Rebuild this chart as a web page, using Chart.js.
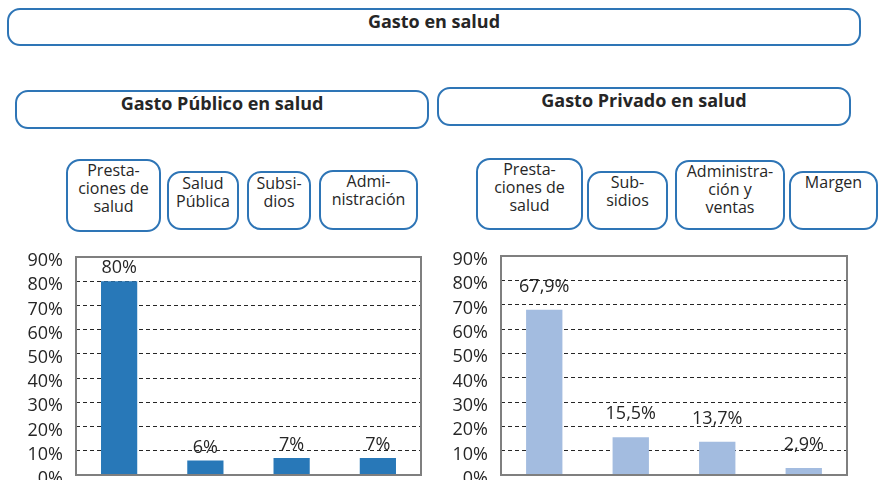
<!DOCTYPE html>
<html>
<head>
<meta charset="utf-8">
<script src="https://cdn.jsdelivr.net/npm/chart.js@4"></script>
<style>
  body { margin: 0; width: 878px; height: 480px; overflow: hidden; background: #fff; position: relative; font-family: "Open Sans", sans-serif; color: #262626; }
  .box { position: absolute; box-sizing: border-box; border: 2.5px solid #2E75B6; border-radius: 13px; text-align: center; background: #fff; }
  .title { font-weight: bold; font-size: 18px; line-height: 22px; }
  .item { font-size: 16px; line-height: 18px; border-radius: 14px; }
  canvas { position: absolute; }
</style>
</head>
<body>

<div class="box title" style="left:7px;top:8px;width:854px;height:38px;padding-top:0px;">Gasto en salud</div>
<div class="box title" style="left:15px;top:90px;width:414px;height:39px;padding-top:0px;">Gasto Público en salud</div>
<div class="box title" style="left:437px;top:87px;width:414px;height:39px;padding-top:0px;">Gasto Privado en salud</div>

<div class="box item" style="left:66px;top:159px;width:95px;height:73px;">Presta-<br>ciones de<br>salud</div>
<div class="box item" style="left:167px;top:171px;width:72px;height:59px;padding-top:1px;">Salud<br>Pública</div>
<div class="box item" style="left:247px;top:171px;width:64px;height:59px;padding-top:1px;">Subsi-<br>dios</div>
<div class="box item" style="left:319px;top:170px;width:99px;height:60px;">Admi-<br>nistración</div>

<div class="box item" style="left:476px;top:158px;width:107px;height:72px;">Presta-<br>ciones de<br>salud</div>
<div class="box item" style="left:587px;top:171px;width:81px;height:59px;">Sub-<br>sidios</div>
<div class="box item" style="left:675px;top:160px;width:110px;height:70px;">Administra-<br>ción y<br>ventas</div>
<div class="box item" style="left:789px;top:171px;width:89px;height:59px;">Margen</div>

<canvas id="publicChart" style="left:0px;top:245px;" width="440" height="260"></canvas>
<canvas id="privateChart" style="left:430px;top:245px;" width="448" height="260"></canvas>

<script>
'use strict';
// data
let publicCategories = ['Prestaciones de salud', 'Salud Pública', 'Subsidios', 'Administración'];
let publicValues = [80, 6, 7, 7];
let privateCategories = ['Prestaciones de salud', 'Subsidios', 'Administración y ventas', 'Margen'];
let privateValues = [67.9, 15.5, 13.7, 2.9];
let yTicks = [0, 10, 20, 30, 40, 50, 60, 70, 80, 90];

let fontFamily = '"Open Sans", sans-serif';
let textColor = '#262626';

// frame around the plot area
let framePlugin = {
    id: 'frame',
    afterDraw: function (chart) {
        let a = chart.chartArea;
        let ctx = chart.ctx;
        ctx.save();
        ctx.strokeStyle = '#7f7f7f';
        ctx.lineWidth = 2;
        ctx.strokeRect(a.left, a.top, a.right - a.left, a.bottom - a.top);
        ctx.restore();
    }
};

// value labels over the bars
let valueLabels = {
    id: 'valueLabels',
    afterDatasetsDraw: function (chart, args, opts) {
        let ctx = chart.ctx;
        let meta = chart.getDatasetMeta(0);
        let values = chart.data.datasets[0].data;
        ctx.save();
        ctx.font = '18px ' + fontFamily;
        ctx.fillStyle = textColor;
        ctx.textAlign = 'center';
        ctx.textBaseline = 'bottom';
        meta.data.forEach(function (bar, i) {
            let txt = values[i].toFixed(opts.decimals).replace('.', ',') + '%';
            ctx.fillText(txt, bar.x, bar.y - opts.offset);
        });
        ctx.restore();
    }
};

function makeChart(id, labels, values, color, pad, decimals, offset) {
    let ctx = document.getElementById(id).getContext('2d');
    return new Chart(ctx, {
        type: 'bar',
        data: {
            labels: labels,
            datasets: [{
                data: values,
                backgroundColor: color,
                borderWidth: 0,
                categoryPercentage: 1,
                barPercentage: 0.42
            }]
        },
        plugins: [framePlugin, valueLabels],
        options: {
            responsive: false,
            animation: false,
            events: [],
            layout: { padding: { top: pad.top, right: pad.right, left: 0, bottom: 0 } },
            plugins: {
                legend: { display: false },
                tooltip: { enabled: false },
                valueLabels: { decimals: decimals, offset: offset }
            },
            scales: {
                x: {
                    grid: { display: false },
                    border: { display: false },
                    ticks: { display: false },
                    afterFit: function (s) { s.height = 30; }
                },
                y: {
                    min: yTicks[0],
                    max: yTicks[yTicks.length - 1],
                    afterBuildTicks: function (s) {
                        s.ticks = yTicks.map(function (v) { return { value: v }; });
                    },
                    afterFit: function (s) {
                        s.width = pad.axis;
                        s.paddingTop = 0;
                        s.paddingBottom = 0;
                    },
                    border: { display: false, dash: [4, 3] },
                    grid: {
                        drawTicks: false,
                        lineWidth: 1,
                        color: function (c) {
                            if (!c.tick || c.tick.value === 0 || c.tick.value === 90) return 'rgba(0,0,0,0)';
                            return '#262626';
                        }
                    },
                    ticks: {
                        autoSkip: false,
                        padding: 13,
                        labelOffset: 4,
                        color: textColor,
                        font: { family: fontFamily, size: 18 },
                        callback: function (v) { return v + '%'; }
                    }
                }
            }
        }
    });
}

makeChart('publicChart', publicCategories, publicValues, '#2878B8',
    { top: 12, right: 19, axis: 76 }, 0, 4);
makeChart('privateChart', privateCategories, privateValues, '#A3BCE0',
    { top: 11, right: 31, axis: 71 }, 1, 14);
</script>
</body>
</html>
